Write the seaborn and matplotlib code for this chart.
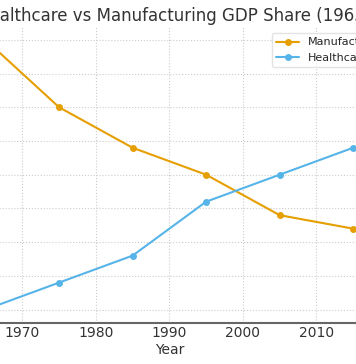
import matplotlib
matplotlib.use("Agg")
import matplotlib.pyplot as plt
import seaborn as sns
import pandas as pd

years = [1965, 1975, 1985, 1995, 2005, 2015]
manufacturing = [25, 20, 17, 15, 12, 11]
healthcare = [5, 7, 9, 13, 15, 17]
series_names = ["Manufacturing", "Healthcare"]
title = "Healthcare vs Manufacturing GDP Share (1965-2015)"

df = pd.DataFrame({
    "Year": years * 2,
    "Share": manufacturing + healthcare,
    "Sector": [series_names[0]] * len(years) + [series_names[1]] * len(years),
})

sns.set_style("whitegrid", {"grid.linestyle": ":", "grid.color": "#cccccc"})
fig = plt.figure(figsize=(3.56, 3.64), dpi=100)
ax = fig.add_axes([-0.0919, 0.1126, 1.1354, 0.8148])

sns.lineplot(data=df, x="Year", y="Share", hue="Sector",
             palette=["#E69F00", "#56B4E9"], marker="o", markersize=5,
             markeredgewidth=0, linewidth=1.5, ax=ax)

ax.set_xlim(1962.5, 2017.5)
ax.set_ylim(4, 26)
ax.set_xticks([1970, 1980, 1990, 2000, 2010])
ax.set_yticks([5, 7.5, 10, 12.5, 15, 17.5, 20, 22.5, 25])
ax.set_yticklabels([])
ax.tick_params(axis="y", length=0)
ax.tick_params(axis="x", labelsize=10, colors="#333333", length=0, pad=2)
ax.set_xlabel("Year", fontsize=10, color="#333333", labelpad=2)
ax.set_ylabel("")
fig.text(-23 / 356, 1 - 20.7 / 364, title, fontsize=12, color="#333333",
         ha="left", va="baseline")
for s in ["top", "right", "left"]:
    ax.spines[s].set_visible(False)
ax.spines["bottom"].set_color("#666666")
ax.spines["bottom"].set_linewidth(1.5)
ax.grid(True, linestyle=":", color="#cccccc", linewidth=0.8)
leg = ax.legend(loc="upper left", fontsize=8, frameon=True,
                bbox_to_anchor=(272 / 356, 1 - 33 / 364),
                bbox_transform=fig.transFigure, borderaxespad=0)
leg.get_frame().set_edgecolor("#dddddd")

fig.savefig("out.png", dpi=100)
